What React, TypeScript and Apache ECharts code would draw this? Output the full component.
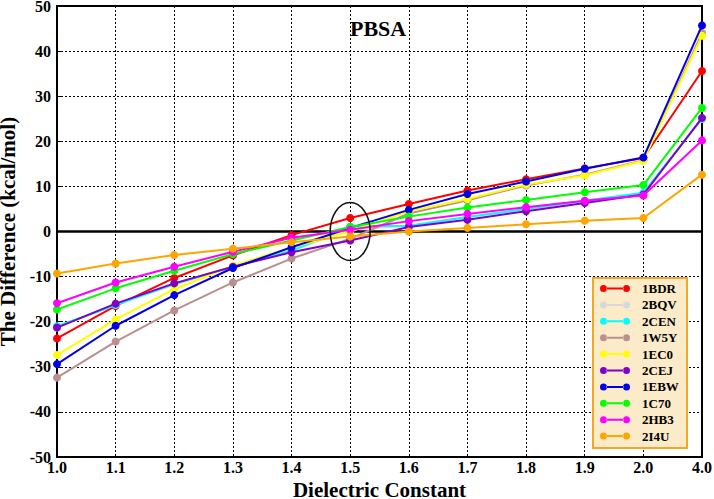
import React, { useEffect, useRef } from "react";
import * as echarts from "echarts";

const categories = ["1.0", "1.1", "1.2", "1.3", "1.4", "1.5", "1.6", "1.7", "1.8", "1.9", "2.0", "4.0"];

const seriesNames = ["1BDR", "2BQV", "2CEN", "1W5Y", "1EC0", "2CEJ", "1EBW", "1C70", "2HB3", "2I4U"];
const seriesColors = ["#ff0000", "#d8d8d8", "#00ffff", "#bc8f8f", "#ffff00", "#8000c8", "#0000e6", "#00ff00", "#ff00ff", "#ffa500"];

const v1BDR = [-23.7, -16.5, -10.3, -5.3, -0.8, 3.0, 6.1, 9.1, 11.6, 14.0, 16.3, 35.6];
const v2BQV = [-21.3, -16.2, -11.8, -7.9, -4.2, 0.5, 1.2, 3.2, 5.0, 6.8, 8.5, 25.0];
const v2CEN = [-21.0, -16.3, -11.6, -7.8, -4.3, 1.1, 1.3, 3.2, 5.0, 6.8, 8.6, 25.0];
const v1W5Y = [-32.4, -24.4, -17.5, -11.3, -6.0, -1.6, 4.0, 6.9, 10.2, 12.6, 15.8, 44.0];
const v1EC0 = [-27.4, -19.5, -12.8, -7.6, -3.5, 0.0, 4.5, 7.2, 10.4, 12.4, 15.7, 43.4];
const v2CEJ = [-21.3, -16.0, -11.5, -7.8, -4.6, -2.0, 1.0, 2.6, 4.5, 6.3, 8.2, 25.2];
const v1EBW = [-29.4, -20.9, -14.1, -8.1, -3.5, 0.8, 4.8, 8.3, 11.1, 13.9, 16.4, 45.7];
const v1C70 = [-17.3, -12.6, -8.7, -5.0, -2.0, 1.0, 3.3, 5.3, 7.0, 8.7, 10.3, 27.4];
const v2HB3 = [-15.9, -11.3, -7.8, -4.5, -1.4, 0.4, 2.3, 3.9, 5.4, 6.8, 8.0, 20.2];
const v2I4U = [-9.3, -7.1, -5.2, -3.8, -2.4, -1.1, 0.0, 0.8, 1.6, 2.4, 3.0, 12.6];

const seriesValues = [v1BDR, v2BQV, v2CEN, v1W5Y, v1EC0, v2CEJ, v1EBW, v1C70, v2HB3, v2I4U];

const yTicks = { min: -50, max: 50, interval: 10 };

const FONT = "'Liberation Serif', 'Times New Roman', serif";
const LEGEND_ICON =
  "path://M0,3.5a3.5,3.5 0 1,0 7,0a3.5,3.5 0 1,0 -7,0Z M23,3.5a3.5,3.5 0 1,0 7,0a3.5,3.5 0 1,0 -7,0Z M6.5,2.5L23.5,2.5L23.5,4.5L6.5,4.5Z";

export default function App() {
  const ref = useRef<HTMLDivElement>(null);

  useEffect(() => {
    if (!ref.current) return;
    const chart = echarts.init(ref.current, null, { renderer: "svg" });

    const series = seriesNames.map((name, i) => ({
      name,
      type: "line",
      data: seriesValues[i],
      symbol: "circle",
      symbolSize: 8,
      showSymbol: true,
      itemStyle: { color: seriesColors[i] },
      lineStyle: { color: seriesColors[i], width: 2 },
      z: 3 + i,
      ...(i === 0
        ? {
            markLine: {
              silent: true,
              symbol: "none",
              label: { show: false },
              lineStyle: { color: "#000", width: 2.5, type: "solid" },
              data: [{ yAxis: 0 }],
              z: 2,
            },
          }
        : {}),
    }));

    const legendBox = {
      type: "rect",
      left: 592,
      top: 277,
      shape: { width: 94, height: 170 },
      style: { fill: "#fcebc9", stroke: "#f5a623", lineWidth: 2 },
      z: 9,
    };

    chart.setOption({
      animation: false,
      backgroundColor: "#ffffff",
      title: {
        text: "PBSA",
        left: 350,
        top: 17,
        padding: 0,
        textStyle: { fontFamily: FONT, fontSize: 22, fontWeight: "bold", color: "#000" },
      },
      grid: {
        left: 57,
        right: 12,
        top: 6,
        height: 451,
        outerBoundsMode: "none",
        containLabel: false,
        show: true,
        borderColor: "#000",
        borderWidth: 2,
        backgroundColor: "transparent",
      },
      xAxis: {
        type: "category",
        data: categories,
        boundaryGap: false,
        name: "Dielectric Constant",
        nameLocation: "middle",
        nameGap: 20,
        nameTextStyle: { fontFamily: FONT, fontSize: 21, fontWeight: "bold", color: "#000", lineHeight: 19 },
        axisLine: { onZero: false, lineStyle: { color: "#000", width: 2 } },
        axisTick: { show: false },
        axisLabel: { fontFamily: FONT, fontSize: 16, fontWeight: "bold", color: "#000", margin: 2 },
        splitLine: { show: true, lineStyle: { color: "#000", type: [2, 2], width: 1 } },
      },
      yAxis: {
        type: "value",
        min: yTicks.min,
        max: yTicks.max,
        interval: yTicks.interval,
        name: "The Difference (kcal/mol)",
        nameLocation: "middle",
        nameGap: 33,
        nameTextStyle: { fontFamily: FONT, fontSize: 21, fontWeight: "bold", color: "#000", lineHeight: 19 },
        axisLine: { show: true, lineStyle: { color: "#000", width: 2 } },
        axisTick: { show: true, inside: true, length: 4, lineStyle: { color: "#000" } },
        axisLabel: { fontFamily: FONT, fontSize: 16, fontWeight: "bold", color: "#000", margin: 6, lineHeight: 12 },
        splitLine: { show: true, lineStyle: { color: "#000", type: [2, 2], width: 1 } },
      },
      legend: {
        orient: "vertical",
        left: 600,
        top: 282,
        padding: 0,
        icon: LEGEND_ICON,
        itemWidth: 30,
        itemHeight: 7,
        itemGap: 3.4,
        selectedMode: false,
        data: seriesNames,
        textStyle: {
          fontFamily: FONT,
          fontSize: 13,
          fontWeight: "bold",
          color: "#000",
          lineHeight: 12,
          padding: [0, 0, 0, 7],
        },
        z: 10,
      },
      graphic: [legendBox],
      series,
    });

    const c = chart.convertToPixel({ xAxisIndex: 0, yAxisIndex: 0 }, ["1.5", 0]) as number[];
    chart.setOption({
      graphic: [
        legendBox,
        {
          type: "ellipse",
          shape: { cx: c[0], cy: c[1], rx: 20, ry: 29 },
          style: { fill: "none", stroke: "#111", lineWidth: 1.5 },
          z: 20,
        },
      ],
    });

    return () => chart.dispose();
  }, []);

  return (
    <div
      ref={ref}
      style={{ position: "fixed", left: 0, top: 0, width: 714, height: 499 }}
    />
  );
}
